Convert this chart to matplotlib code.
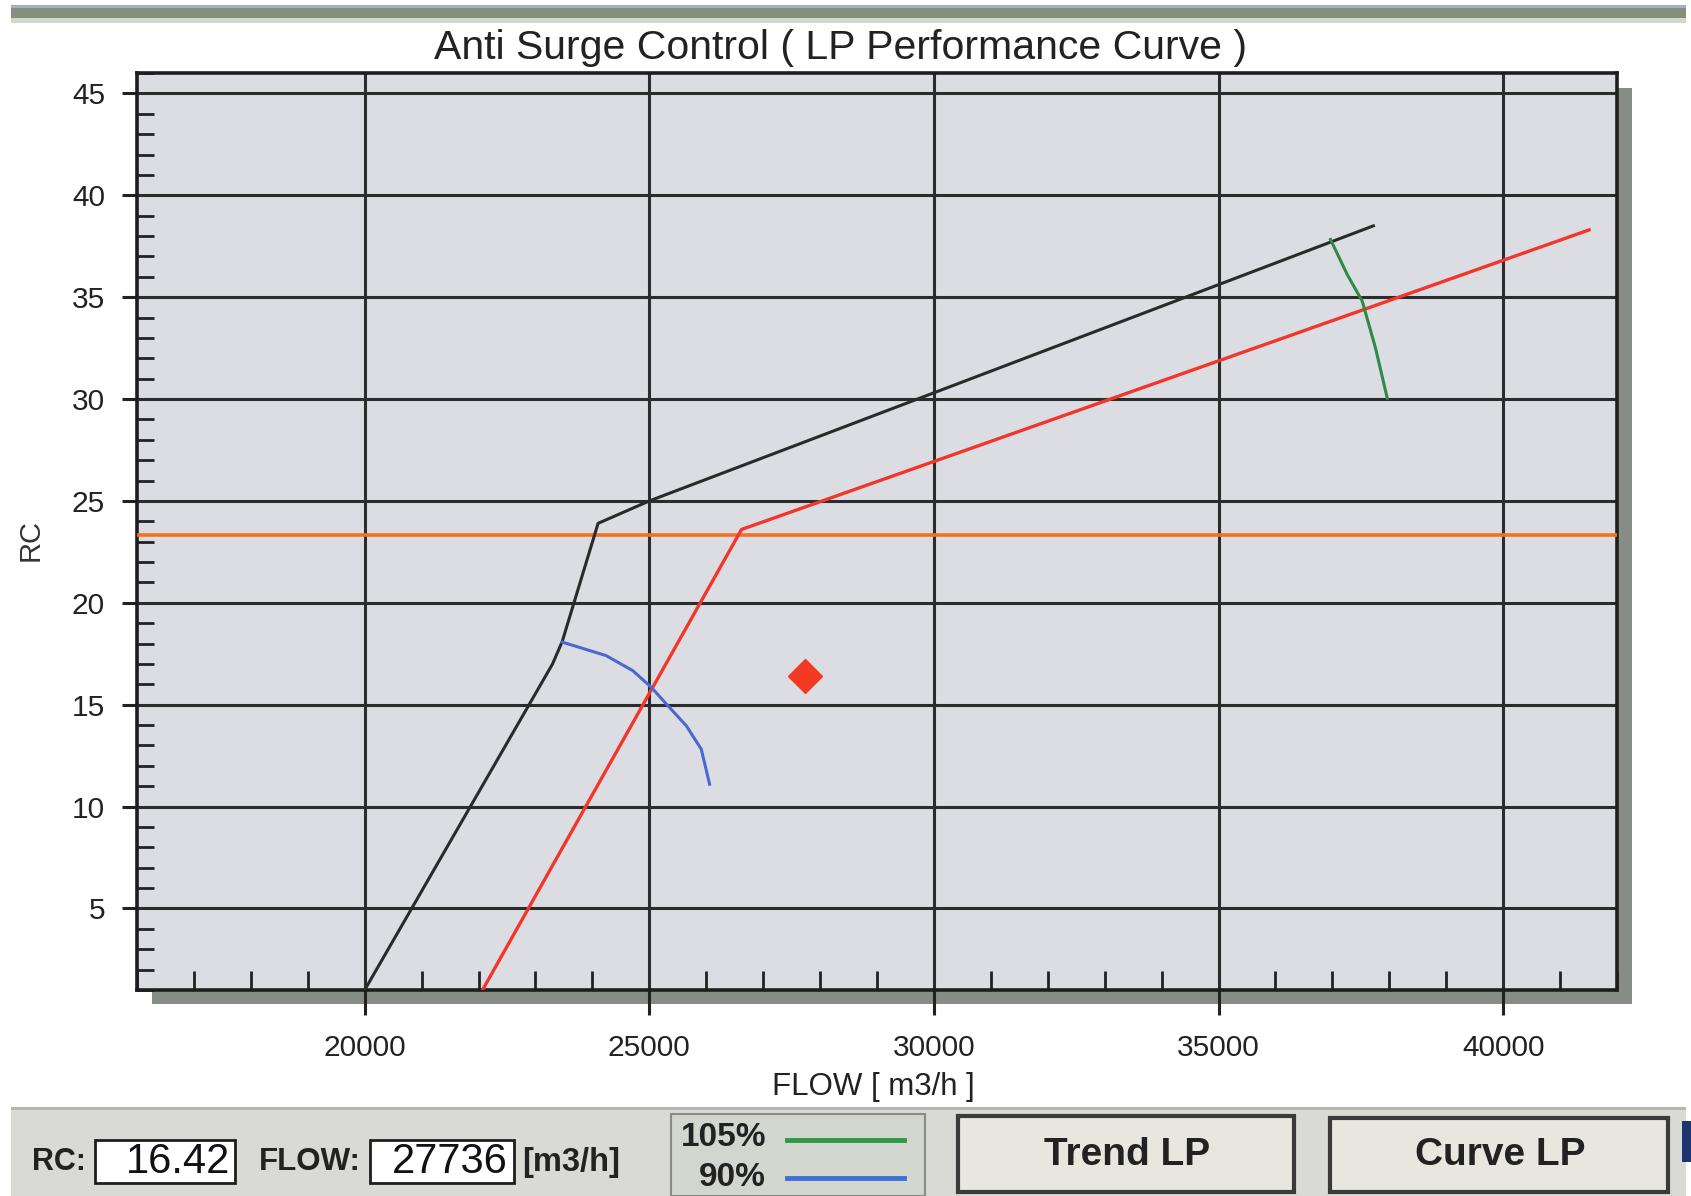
import numpy as np
import matplotlib
matplotlib.use("Agg")
import matplotlib.pyplot as plt
from matplotlib.patches import Rectangle
from matplotlib.ticker import MultipleLocator

plt.rcParams['font.family'] = ['Liberation Sans', 'DejaVu Sans']

# surge line (black)
surge_flow = [20000, 23300, 23470, 24100, 25000, 37720]
surge_rc = [1.0, 17.0, 18.1, 23.9, 25.0, 38.5]

# control line (red)
control_flow = [22070, 26620, 41510]
control_rc = [1.0, 23.6, 38.3]

# limit line (orange)
limit_rc = 23.35

# 90% speed curve (blue)
speed90_flow = [23473, 24241, 24710, 25033, 25297, 25649, 25913, 26059]
speed90_rc = [18.07, 17.41, 16.67, 15.86, 15.04, 13.97, 12.82, 11.10]

# 105% speed curve (green)
speed105_flow = [36967, 37261, 37525, 37758, 37964]
speed105_rc = [37.83, 36.11, 34.80, 32.50, 30.04]

# operating point
op_flow = 27736
op_rc = 16.42

x_ticks = [20000, 25000, 30000, 35000, 40000]
y_ticks = [5, 10, 15, 20, 25, 30, 35, 40, 45]

W, H = 1691, 1196
fig = plt.figure(figsize=(W / 100, H / 100), dpi=100)
fig.patch.set_facecolor('white')


def box(x0, y0, x1, y1, **kw):
    # rectangle given in pixel coords (top-left origin)
    r = Rectangle((x0 / W, 1 - y1 / H), (x1 - x0) / W, (y1 - y0) / H,
                  transform=fig.transFigure, **kw)
    fig.patches.append(r)
    return r


def ftext(x, y, s, **kw):
    return fig.text(x / W, 1 - y / H, s, **kw)


# window band on top
box(11, 5, 1686, 8, facecolor='#9fb0c8', edgecolor='none')
box(11, 8, 1686, 18, facecolor='#84907c', edgecolor='none')
box(11, 18, 1686, 23, facecolor='#d3d8cc', edgecolor='none')

# shadow of plot area
box(152, 88, 1632, 1004, facecolor='#868c86', edgecolor='none', zorder=0)

ax = fig.add_axes([137 / W, 1 - 990 / H, (1617 - 137) / W, (990 - 73) / H])
ax.set_zorder(2)
ax.set_facecolor('#dcdde2')
ax.set_xlim(16000, 42000)
ax.set_ylim(1, 46)

ax.axhline(limit_rc, color='#f07322', lw=2.6, zorder=3)
ax.plot(surge_flow, surge_rc, color='#2a2a2a', lw=2.2, zorder=4)
ax.plot(control_flow, control_rc, color='#f2362c', lw=2.4, zorder=4)
ax.plot(speed90_flow, speed90_rc, color='#4a68d2', lw=2.2, zorder=4)
ax.plot(speed105_flow, speed105_rc, color='#2f8a46', lw=2.2, zorder=4)
ax.plot([op_flow], [op_rc], marker='D', ms=17, color='#f23a22',
        mec='#f23a22', zorder=5)

ax.set_xticks(x_ticks)
ax.set_yticks(y_ticks)
ax.xaxis.set_minor_locator(MultipleLocator(1000))
ax.yaxis.set_minor_locator(MultipleLocator(1))
ax.grid(True, which='major', color='#2c2c2c', lw=2.2)
ax.set_axisbelow(True)
ax.tick_params(axis='x', which='major', direction='out', length=18, width=2.2,
               pad=14, labelsize=21.5, colors='#222222')
ax.tick_params(axis='y', which='major', direction='out', length=11, width=2.2,
               pad=12, labelsize=21.5, colors='#222222')
ax.tick_params(axis='x', which='minor', direction='in', length=14, width=2,
               color='#222222')
ax.tick_params(axis='y', which='minor', direction='in', length=12, width=2,
               color='#222222')
for sp in ax.spines.values():
    sp.set_color('#1e1e1e')
    sp.set_linewidth(2.6)

ftext(841, 48, 'Anti Surge Control ( LP Performance Curve )', fontsize=29.5,
      ha='center', va='center', color='#222222')
ftext(873, 1087, 'FLOW [ m3/h ]', fontsize=22.5, ha='center', va='center',
      color='#222222')
ftext(31, 540, 'RC', fontsize=21, rotation=90, ha='center', va='center',
      color='#333333')

# bottom status panel
box(11, 1107, 1686, 1196, facecolor='#d9d9d5', edgecolor='none')
box(11, 1107, 1686, 1110, facecolor='#b5b6b0', edgecolor='none')
box(95, 1140, 235, 1183, facecolor='white', edgecolor='#1e1e1e', lw=2)
box(370, 1140, 514, 1183, facecolor='white', edgecolor='#1e1e1e', lw=2)
box(671, 1114, 925, 1196, facecolor='#d3d5cf', edgecolor='#8a8a86', lw=1.5)
box(958, 1116, 1294, 1192, facecolor='#e7e7e0', edgecolor='#3a3a3a', lw=3)
box(1330, 1118, 1668, 1192, facecolor='#e7e7e0', edgecolor='#3a3a3a', lw=3)
box(1682, 1121, 1691, 1162, facecolor='#1f3570', edgecolor='none')

ftext(32, 1162, 'RC:', fontsize=22, weight='bold',
      ha='left', va='center', color='#222222')
ftext(230, 1162, '16.42', fontsize=30,
      ha='right', va='center', color='#111111')
ftext(259, 1162, 'FLOW:', fontsize=22.5, weight='bold',
      ha='left', va='center', color='#222222')
ftext(508, 1162, '27736', fontsize=30,
      ha='right', va='center', color='#111111')
ftext(522, 1162, '[m3/h]', fontsize=23.5, weight='bold',
      ha='left', va='center', color='#222222')
ftext(766, 1138, '105%', fontsize=24, weight='bold',
      ha='right', va='center', color='#222222')
ftext(766, 1178, '90%', fontsize=24, weight='bold',
      ha='right', va='center', color='#222222')
fig.lines.append(plt.Line2D([787 / W, 904 / W], [1 - 1140 / H, 1 - 1140 / H],
                            transform=fig.transFigure, color='#2e9a48', lw=3.5))
fig.lines.append(plt.Line2D([787 / W, 904 / W], [1 - 1178 / H, 1 - 1178 / H],
                            transform=fig.transFigure, color='#3f6fd8', lw=3.5))
ftext(1127, 1155, 'Trend LP', fontsize=28, weight='bold',
      ha='center', va='center', color='#222222')
ftext(1500, 1155, 'Curve LP', fontsize=28, weight='bold',
      ha='center', va='center', color='#222222')

fig.savefig('out.png', dpi=100, facecolor='white')
